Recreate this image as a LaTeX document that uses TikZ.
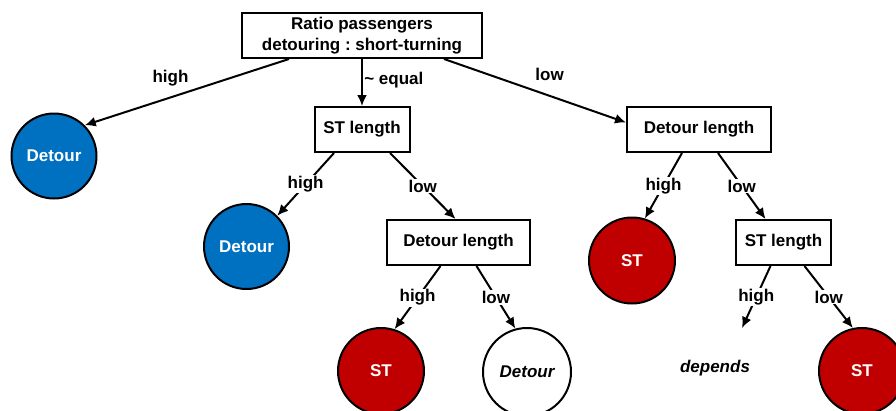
\documentclass[tikz,border=0pt]{standalone}
\usepackage{fontspec}
\setmainfont{Liberation Sans}
\usetikzlibrary{arrows.meta, positioning}
\definecolor{detourblue}{HTML}{0070C0}
\definecolor{stred}{HTML}{C00000}
\frenchspacing

\begin{document}
\begin{tikzpicture}[x=1pt, y=-1pt, line width=2pt, font=\fontsize{17}{21}\selectfont\bfseries]
\tikzstyle{question} = [rectangle, draw=black, fill=white, minimum height=45pt, text centered, align=center]
\tikzstyle{detourOutcome} = [circle, draw=black, fill=detourblue, text=white, minimum size=85pt, inner sep=0pt]
\tikzstyle{stOutcome} = [circle, draw=black, fill=stred, text=white, minimum size=86pt, inner sep=0pt]
\tikzstyle{openOutcome} = [circle, draw=black, fill=white, minimum size=88pt, inner sep=0pt, font=\fontsize{17}{21}\selectfont\bfseries\itshape]
\tikzstyle{branch} = [-{Latex[length=11pt,width=10pt]}]
\tikzstyle{answer} = [fill=white, inner sep=1pt]

\useasboundingbox (0,0) rectangle (896,410);

\node (ratio) [question, minimum width=240pt] at (362,35.5) {Ratio passengers\\detouring : short-turning};
\node (detourA) [detourOutcome] at (54,156) {Detour};
\node (stlenA) [question, minimum width=95pt] at (362,129.5) {ST length};
\node (detlenA) [question, minimum width=144pt] at (699,129.5) {Detour length};
\node (detourB) [detourOutcome] at (246.5,246.5) {Detour};
\node (detlenB) [question, minimum width=143pt] at (458.5,242.5) {Detour length};
\node (stA) [stOutcome] at (632,260.5) {ST};
\node (stlenB) [question, minimum width=95pt] at (783.5,242.5) {ST length};
\node (stB) [stOutcome] at (381,371) {ST};
\node (detourC) [openOutcome] at (527,372) {Detour};
\node (depends) at (715,368) {\itshape depends};
\node (stC) [stOutcome] at (862,371) {ST};
\coordinate (dependsTip) at (742,328);

% first split
\draw[branch] ([xshift=-73pt]ratio.south) -- node[pos=.58, yshift=19pt] {high} (detourA.45);
\draw[branch] (ratio.south) -- node[right, xshift=-2pt, yshift=2pt] {\textasciitilde\ equal} (stlenA.north);
\draw[branch] ([xshift=82pt]ratio.south) -- node[pos=.58, yshift=21pt] {low} ([yshift=7pt]detlenA.west);

% second level
\draw[branch] ([xshift=-28pt]stlenA.south) -- node[answer] {high} (detourB.45);
\draw[branch] ([xshift=28pt]stlenA.south) -- node[answer] {low} ([xshift=-3pt]detlenB.north);
\draw[branch] ([xshift=-17pt]detlenA.south) -- node[answer] {high} (stA.73);
\draw[branch] ([xshift=19pt]detlenA.south) -- node[answer] {low} ([xshift=-18pt]stlenB.north);

% third level
\draw[branch] ([xshift=-18pt]detlenB.south) -- node[answer] {high} (stB.72);
\draw[branch] ([xshift=18pt]detlenB.south) -- node[answer] {low} (detourC.105);
\draw[branch] ([xshift=-13pt]stlenB.south) -- node[answer] {high} (dependsTip);
\draw[branch] ([xshift=21pt]stlenB.south) -- node[answer] {low} (stC.102);

\end{tikzpicture}
\end{document}
